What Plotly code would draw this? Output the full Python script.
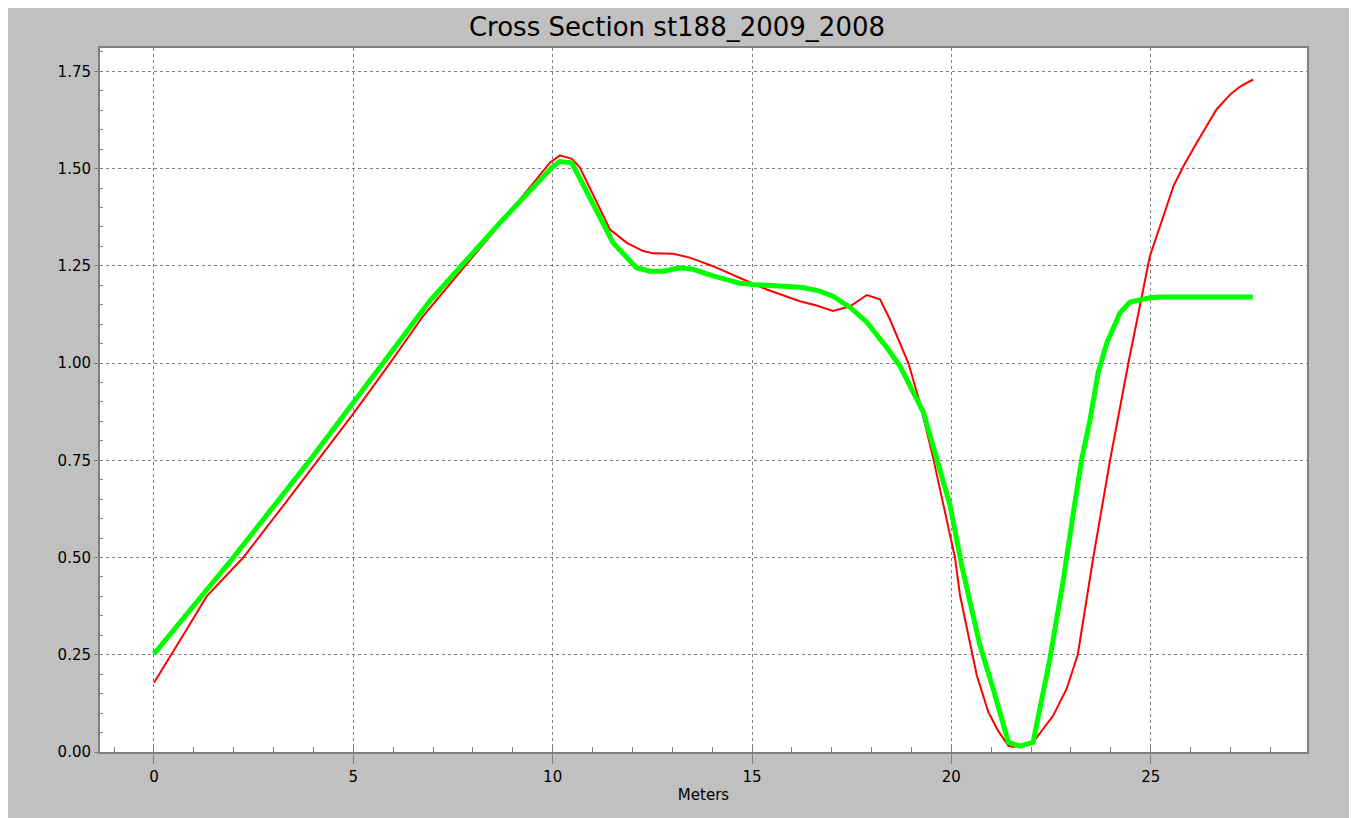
import plotly.graph_objects as go

# ---- data ----
red_x = [0, 0.44, 0.82, 1.32, 2.24, 3.24, 4.12, 5.0, 5.92, 6.75, 8.5, 9.93, 10.18, 10.48,
         10.68, 11.44, 11.86, 12.27, 12.52, 13.02, 13.44, 14.02, 14.87, 15.37, 16.2, 16.62,
         17.03, 17.46, 17.88, 18.21, 18.46, 18.71, 18.92, 19.21, 19.55, 19.88, 20.09, 20.22,
         20.64, 20.93, 21.17, 21.43, 21.55, 22.05, 22.55, 22.89, 23.17, 23.56, 23.98, 24.44,
         24.73, 24.98, 25.32, 25.57, 25.82, 26.15, 26.65, 26.99, 27.24, 27.57]
red_y = [0.178, 0.25, 0.315, 0.4, 0.5, 0.633, 0.75, 0.87, 1.0, 1.121, 1.335, 1.515, 1.534,
         1.525, 1.503, 1.343, 1.309, 1.288, 1.282, 1.281, 1.271, 1.249, 1.211, 1.189, 1.159,
         1.148, 1.134, 1.146, 1.175, 1.164, 1.112, 1.053, 1.0, 0.898, 0.753, 0.598, 0.50,
         0.401, 0.196, 0.102, 0.055, 0.016, 0.013, 0.025, 0.093, 0.162, 0.25, 0.5, 0.75,
         1.0, 1.147, 1.275, 1.378, 1.455, 1.506, 1.566, 1.652, 1.69, 1.711, 1.729]

green_x = [0, 1.99, 3.91, 5.75, 6.92, 8.68, 10.0, 10.18, 10.48, 11.51, 12.1, 12.44, 12.77,
           13.19, 13.52, 14.02, 14.7, 15.02, 15.78, 16.28, 16.7, 17.03, 17.46, 17.88, 18.38,
           18.71, 19.3, 19.63, 19.97, 20.26, 20.72, 21.05, 21.43, 21.72, 22.05, 22.47, 22.81,
           23.06, 23.27, 23.48, 23.68, 23.9, 24.23, 24.48, 24.98, 25.23, 25.98, 26.49, 26.81,
           27.56]
green_y = [0.252, 0.5, 0.75, 1.0, 1.16, 1.361, 1.505, 1.518, 1.515, 1.31, 1.245, 1.236,
           1.236, 1.245, 1.241, 1.224, 1.205, 1.202, 1.198, 1.194, 1.185, 1.172, 1.143, 1.105,
           1.04, 0.992, 0.873, 0.753, 0.633, 0.479, 0.273, 0.162, 0.025, 0.015, 0.025, 0.239,
           0.444, 0.616, 0.753, 0.855, 0.975, 1.052, 1.129, 1.157, 1.168, 1.17, 1.17, 1.167,
           1.17, 1.17]

title_text = "Cross Section st188_2009_2008"
x_title = "Meters"

FONT = "DejaVu Sans"
GRID = "#808080"

fig = go.Figure()
fig.add_trace(go.Scatter(x=red_x, y=red_y, mode="lines",
                         line=dict(color="#ff0000", width=2), showlegend=False))
fig.add_trace(go.Scatter(x=green_x, y=green_y, mode="lines",
                         line=dict(color="#00ff00", width=5), showlegend=False))

fig.update_layout(
    width=1357, height=818,
    margin=dict(l=92, r=58, t=40, b=74),
    paper_bgcolor="#c0c0c0",
    plot_bgcolor="#ffffff",
    title=dict(text=title_text, x=(677 - 8) / 1357, xref="container", xanchor="center",
               y=1 - 19 / 818, yref="container", yanchor="middle",
               font=dict(family=FONT, size=26, color="#000000")),
    font=dict(family=FONT, size=15, color="#000000"),
)

fig.update_xaxes(
    range=[-1.354, 28.92], dtick=5, tick0=0,
    showgrid=True, gridcolor=GRID, griddash="3px,3px", gridwidth=1,
    zeroline=False,
    showline=True, linecolor="#808080", linewidth=2, mirror=True,
    ticks="outside", ticklen=10, tickcolor=GRID, tickwidth=1,
    tickfont=dict(family=FONT, size=15, color="#000000"),
    minor=dict(dtick=1, ticks="inside", ticklen=5, tickcolor=GRID, showgrid=False),
    title=dict(text=x_title, font=dict(family=FONT, size=15, color="#000000"), standoff=4),
)
fig.update_yaxes(
    range=[0, 1.81], dtick=0.25, tick0=0, tickformat=".2f",
    showgrid=True, gridcolor=GRID, griddash="3px,3px", gridwidth=1,
    zeroline=False,
    showline=True, linecolor="#808080", linewidth=2, mirror=True,
    ticks="outside", ticklen=4, tickcolor=GRID, tickwidth=1,
    tickfont=dict(family=FONT, size=15, color="#000000"),
    minor=dict(dtick=0.05, ticks="inside", ticklen=3, tickcolor=GRID, showgrid=False),
)

fig.write_html("out.html")
